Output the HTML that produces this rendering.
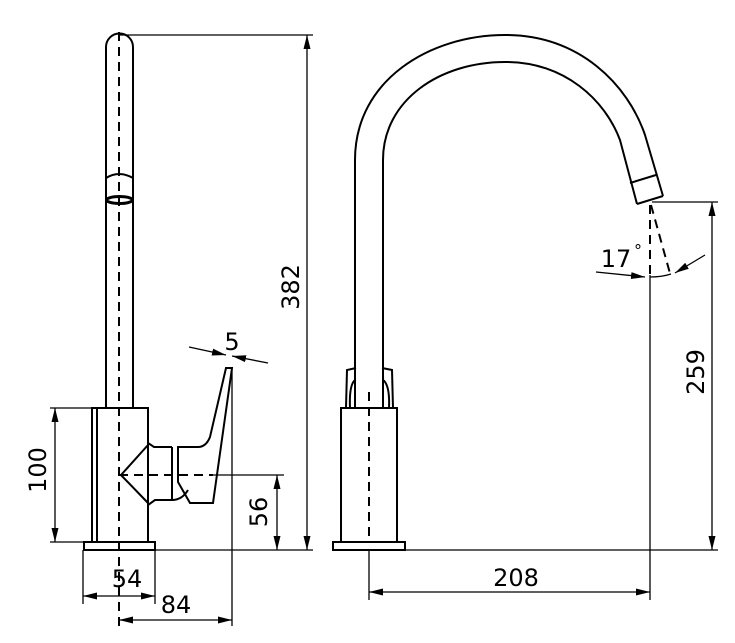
<!DOCTYPE html>
<html><head><style>body{margin:0;background:#fff}svg{display:block}text{font-family:"DejaVu Sans","Liberation Sans",sans-serif;fill:#000}</style></head>
<body>
<svg width="735" height="643" viewBox="0 0 735 643" xmlns="http://www.w3.org/2000/svg">
<defs>
<marker id="a" viewBox="0 0 14 7" refX="14" refY="3.5" markerWidth="14" markerHeight="7" orient="auto-start-reverse" markerUnits="userSpaceOnUse"><path d="M0,0L14,3.5L0,7z" fill="#000"/></marker>
</defs>
<g fill="none" stroke="#000" stroke-width="2">
<path d="M106,408 L106,47 A13.5,13.5 0 0 1 133,47 L133,408"/>
<path d="M106,178 Q119,170 133,178"/>
<ellipse cx="119.5" cy="200" rx="13" ry="3.5" stroke-width="3"/>
<rect x="92" y="408" width="56" height="134"/>
<line x1="97" y1="408" x2="97" y2="542"/>
<rect x="84" y="542" width="71" height="8"/>
<path d="M148,430 L148,443 L154,447 L172,447 M177,447 L198,447 Q206,447 210,437 L226,368 L232,368 L213,503 L190,503 L178,482 L178,447"/>
<path d="M172,447 L172,500 L155,500 L148,505 L148,542"/>
<path d="M121,475 L148,445 M121,475 L148,503"/>
<path d="M172,500 Q182,500 188,490"/>
</g>
<g stroke="#000" stroke-width="1.3" fill="none">
<line x1="119" y1="32" x2="119" y2="632" stroke-dasharray="9,6" stroke-width="2"/>
<line x1="119" y1="475" x2="213" y2="475" stroke-dasharray="9,6" stroke-width="2"/>
<line x1="213" y1="475" x2="284" y2="475"/>
<line x1="119" y1="35" x2="313" y2="35"/>
<line x1="155" y1="550" x2="313" y2="550"/>
<line x1="307" y1="35" x2="307" y2="550" marker-start="url(#a)" marker-end="url(#a)"/>
<line x1="277" y1="475" x2="277" y2="550" marker-start="url(#a)" marker-end="url(#a)"/>
<line x1="50" y1="408" x2="92" y2="408"/>
<line x1="50" y1="542" x2="84" y2="542"/>
<line x1="55" y1="408" x2="55" y2="542" marker-start="url(#a)" marker-end="url(#a)"/>
<line x1="83" y1="550" x2="83" y2="604"/>
<line x1="155" y1="550" x2="155" y2="604"/>
<line x1="83" y1="596" x2="155" y2="596" marker-start="url(#a)" marker-end="url(#a)"/>
<line x1="232" y1="370" x2="232" y2="626"/>
<line x1="119" y1="620" x2="232" y2="620" marker-start="url(#a)" marker-end="url(#a)"/>
<line x1="189" y1="347" x2="226" y2="355" marker-end="url(#a)"/>
<line x1="268" y1="363" x2="232" y2="356" marker-end="url(#a)"/>
</g>
<text x="232" y="350" font-size="24" text-anchor="middle">5</text>
<text x="127" y="587" font-size="24" text-anchor="middle">54</text>
<text x="176" y="613" font-size="24" text-anchor="middle">84</text>
<text transform="translate(299,287) rotate(-90)" font-size="24" text-anchor="middle">382</text>
<text transform="translate(46,470) rotate(-90)" font-size="24" text-anchor="middle">100</text>
<text transform="translate(267,512) rotate(-90)" font-size="24" text-anchor="middle">56</text>
<g fill="none" stroke="#000" stroke-width="2">
<path d="M355,408 L355,160 C355,80 430,35 505,35 C580,35 628,85 645,135 L663,196"/>
<path d="M383,408 L383,160 C383,100 440,62 505,62 C565,62 605,100 620,140 L637,204"/>
<path d="M637,204 L663,196 M630,183 L656,175"/>
<rect x="341" y="408" width="56" height="134"/>
<rect x="333" y="542" width="72" height="8"/>
<path d="M346,408 L347,370 L356,368 M393,408 L392,370 L382,368"/>
<path d="M350,408 Q349,385 355,380 M389,408 Q390,385 383,380"/>
</g>
<g stroke="#000" stroke-width="1.3" fill="none">
<line x1="369" y1="392" x2="369" y2="540" stroke-dasharray="9,6" stroke-width="2"/>
<line x1="369" y1="550" x2="369" y2="600"/>
<line x1="405" y1="550" x2="718" y2="550"/>
<line x1="652" y1="202" x2="718" y2="202"/>
<line x1="712" y1="202" x2="712" y2="550" marker-start="url(#a)" marker-end="url(#a)"/>
<line x1="650" y1="205" x2="650" y2="275" stroke-dasharray="9,6" stroke-width="2"/>
<line x1="650" y1="275" x2="650" y2="600"/>
<line x1="651" y1="205" x2="671" y2="277" stroke-dasharray="9,6" stroke-width="2"/>
<line x1="369" y1="592" x2="650" y2="592" marker-start="url(#a)" marker-end="url(#a)"/>
<line x1="596" y1="272" x2="645" y2="277" marker-end="url(#a)"/>
<path d="M650,277 Q662,277 671,274"/>
<line x1="705" y1="255" x2="675" y2="273" marker-end="url(#a)"/>
</g>
<text x="516" y="586" font-size="24" text-anchor="middle">208</text>
<text x="616" y="267" font-size="24" text-anchor="middle">17</text>
<text x="634" y="256" font-size="16">°</text>
<text transform="translate(704,372) rotate(-90)" font-size="24" text-anchor="middle">259</text>
</svg>
</body></html>
